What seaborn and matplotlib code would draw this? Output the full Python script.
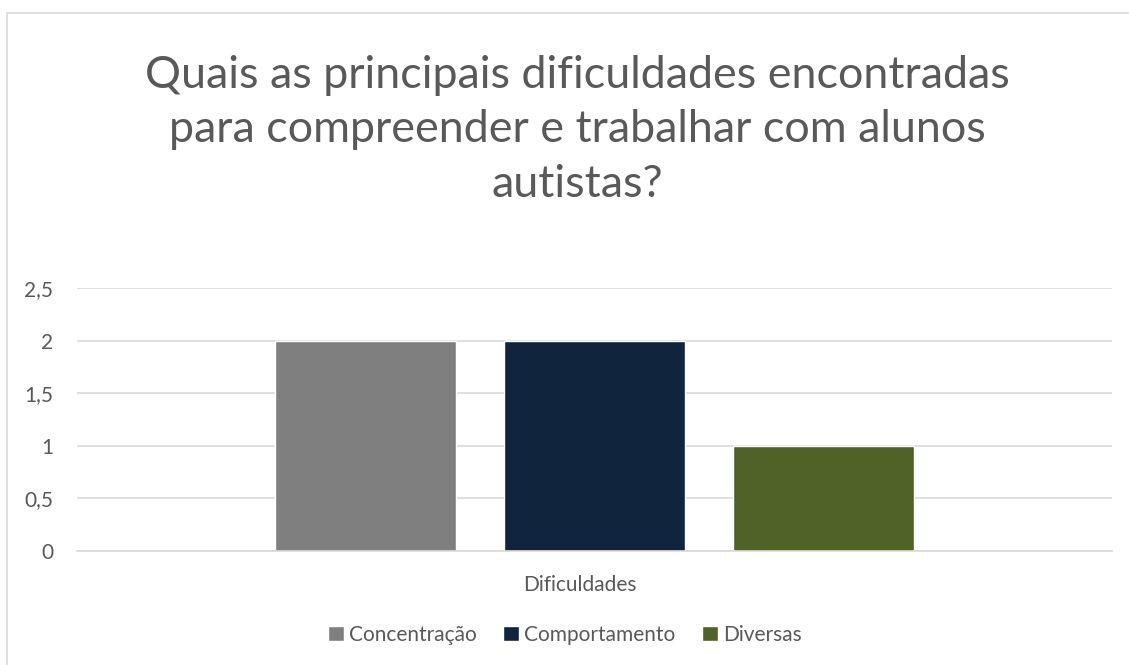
import matplotlib
matplotlib.use("Agg")
import matplotlib.pyplot as plt
import seaborn as sns
import pandas as pd
from matplotlib.patches import Rectangle

categories = ["Dificuldades"]
series = ["Concentração", "Comportamento", "Diversas"]
values = [2, 2, 1]
colors = ["#7F7F7F", "#10243E", "#4F6228"]
yticks = [0, 0.5, 1, 1.5, 2, 2.5]
ytick_labels = ["0", "0,5", "1", "1,5", "2", "2,5"]
title = "Quais as principais dificuldades encontradas\npara compreender e trabalhar com alunos\nautistas?"

sns.set_theme(style="white")
plt.rcParams["font.family"] = ["Lato", "DejaVu Sans"]
TXT = "#595959"
FS = 15

df = pd.DataFrame({"cat": categories * len(series), "serie": series, "valor": values})

fig = plt.figure(figsize=(11.29, 6.65), dpi=100)
W, H = 1129, 665
ax = fig.add_axes([77 / W, 1 - 551 / H, (1112 - 77) / W, (551 - 288) / H])

sns.barplot(data=df, x="cat", y="valor", hue="serie", hue_order=series,
            palette=colors, width=0.664, gap=0.21, saturation=1, ax=ax,
            legend=True)

ax.set_xlim(-0.5, 0.5)
ax.set_ylim(0, 2.5)
ax.set_yticks(yticks)
ax.set_yticklabels(ytick_labels)
ax.yaxis.grid(True, color="#D9D9D9", linewidth=1.2)
ax.set_axisbelow(True)
for s in ["top", "right", "left"]:
    ax.spines[s].set_visible(False)
ax.spines["bottom"].set_color("#D9D9D9")
ax.spines["bottom"].set_linewidth(1.2)
ax.tick_params(axis="y", length=0, pad=17, labelsize=FS, labelcolor=TXT)
ax.set_xticks([])
ax.set_xlabel("")
ax.set_ylabel("")

fig.text(580 / W, 1 - 585 / H, categories[0], ha="center", va="center",
         fontsize=FS, color=TXT)

fig.text(577 / W, 1 - 130 / H, title, ha="center", va="center",
         fontsize=32.3, color=TXT, linespacing=1.4)

handles, labels = ax.get_legend_handles_labels()
ax.get_legend().remove()
leg = fig.legend(handles, labels, loc="center", bbox_to_anchor=(565 / W, 1 - 635 / H),
                 ncol=3, frameon=False, fontsize=FS, handlelength=0.75, handleheight=0.75,
                 handletextpad=0.25, columnspacing=1.27, labelcolor=TXT)

fig.patches.append(Rectangle((7 / W, -0.05), 1.1, 1 - 13 / H + 0.05, transform=fig.transFigure,
                             fill=False, edgecolor="#D9D9D9", linewidth=1.2, zorder=0))

fig.savefig("out.png", dpi=100)
